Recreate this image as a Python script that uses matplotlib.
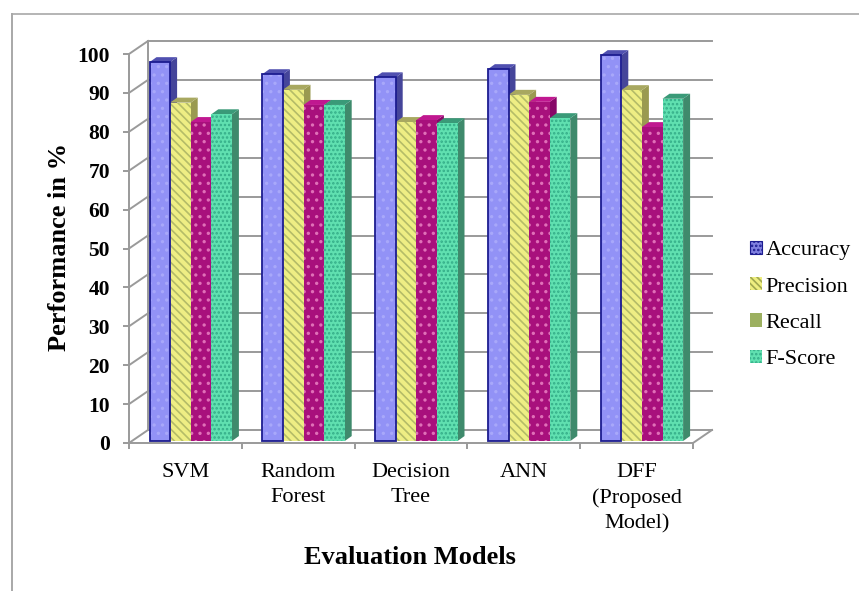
import matplotlib
matplotlib.use("Agg")
import matplotlib.pyplot as plt
from matplotlib.patches import Polygon, Patch

categories = ["SVM", "Random\nForest", "Decision\nTree", "ANN", "DFF\n(Proposed\nModel)"]
accuracy = [97.4, 94.3, 93.5, 95.6, 99.2]
precision = [87.0, 90.3, 82.0, 89.0, 90.2]
recall = [82.0, 86.4, 82.5, 87.2, 80.7]
fscore = [84.0, 86.4, 81.7, 83.0, 88.0]
series_names = ["Accuracy", "Precision", "Recall", "F-Score"]
y_ticks = list(range(0, 101, 10))

W, H = 859, 591
SERIF = "Liberation Serif"
plt.rcParams["hatch.linewidth"] = 1.2

fig = plt.figure(figsize=(W / 100, H / 100), dpi=100, facecolor="white")
ax = fig.add_axes([129 / W, 1 - 443 / H, (693 - 129) / W, (443 - 54) / H])
ax.set_xlim(0, 5)
ax.set_ylim(0, 100)
ax.patch.set_visible(False)

GRID = "#9a9a9a"
px = 5 / (693 - 129)
py = 100 / (443 - 54)
DX, DY = 19 * px, 13 * py

# walls and gridlines
for v in y_ticks:
    ax.plot([0, DX], [v, v + DY], color=GRID, lw=1.4, clip_on=False, zorder=1)
    ax.plot([DX, 5 + DX], [v + DY, v + DY], color=GRID, lw=1.4, clip_on=False, zorder=1)
ax.plot([DX, DX], [DY, 100 + DY], color=GRID, lw=1.4, clip_on=False, zorder=1)
ax.plot([5, 5 + DX], [0, DY], color=GRID, lw=1.4, clip_on=False, zorder=1)

# bars
styles = [
    dict(face="#9292f6", edge="#1c1c90", hatch="..", hc="#a8a8fa", side="#45459a", top="#5050b0"),
    dict(face="#eeee84", edge="#eeee84", hatch="\\\\\\\\", hc="#b4bc68", side="#9a9a50", top="#a8a860"),
    dict(face="#a8107c", edge="#a8107c", hatch="..", hc="#e070b8", side="#880868", top="#c01890"),
    dict(face="#60e0b0", edge="#60e0b0", hatch="....", hc="#34ad88", side="#3f8a6c", top="#3a9a78"),
]
all_series = [accuracy, precision, recall, fscore]
BW = 20.6 * px
START = 20.5 * px
LIFT = 0.5
dx_b, dy_b = 7 * px, 5 * py
for i, vals in enumerate(all_series):
    s = styles[i]
    xs = [c + START + i * BW for c in range(len(categories))]
    ax.bar(xs, vals, width=BW, bottom=LIFT, align="edge",
           color=s["face"], edgecolor=s["hc"], hatch=s["hatch"], lw=0, zorder=3 + i * 0.1)
    for x, v in zip(xs, vals):
        t = v + LIFT
        ax.add_patch(Polygon([(x + BW, LIFT), (x + BW + dx_b, LIFT + dy_b), (x + BW + dx_b, t + dy_b), (x + BW, t)],
                             closed=True, fc=s["side"], ec="none", zorder=2.9 + i * 0.1, clip_on=False))
        ax.add_patch(Polygon([(x, t), (x + dx_b, t + dy_b), (x + BW + dx_b, t + dy_b), (x + BW, t)],
                             closed=True, fc=s["top"], ec="none", zorder=2.9 + i * 0.1, clip_on=False))
        if i == 0:
            ax.add_patch(plt.Rectangle((x, LIFT), BW, v, fc="none", ec=s["edge"], lw=1.3, zorder=3.5))

# axes
for side in ("top", "right"):
    ax.spines[side].set_visible(False)
for side in ("left", "bottom"):
    ax.spines[side].set_color(GRID)
    ax.spines[side].set_linewidth(1.4)
ax.set_yticks(y_ticks)
ax.set_yticklabels([str(v) for v in y_ticks], fontfamily=SERIF, fontsize=15.5, fontweight="bold", color="black")
ax.set_xticks(range(6))
ax.set_xticklabels([""] * 6)
ax.tick_params(axis="x", color=GRID, width=1.4, length=4.3)
ax.tick_params(axis="y", color=GRID, width=1.4, length=4.3, pad=9.4)
for c, label in enumerate(categories):
    ax.text(c + 0.5, -5.2, label, ha="center", va="top", fontfamily=SERIF, fontsize=16, linespacing=1.44)

fig.text(60 / W, 1 - 247 / H, "Performance in %", rotation=90, ha="center", va="center",
         fontfamily=SERIF, fontsize=19, fontweight="bold")
fig.text(410 / W, 1 - 558 / H, "Evaluation Models", ha="center", va="center",
         fontfamily=SERIF, fontsize=19, fontweight="bold")

# legend
handles = [
    Patch(facecolor="#8080e0", edgecolor="#1c1c90", hatch="....", lw=0.8),
    Patch(facecolor="#eeee80", edgecolor="#a0a850", hatch="\\\\\\\\\\", lw=0),
    Patch(facecolor="#9cb060", edgecolor="#9cb060", lw=0),
    Patch(facecolor="#60e0b0", edgecolor="#34ad88", hatch="....", lw=0),
]
leg = fig.legend(handles, series_names, loc="center left", bbox_to_anchor=(750 / W, 1 - 305 / H),
                 frameon=False, handlelength=0.55, handleheight=0.55, handletextpad=0.14, labelspacing=0.76,
                 borderpad=0, borderaxespad=0, prop={"family": SERIF, "size": 16})

# outer frame
fig.add_artist(plt.Line2D([12 / W, 12 / W], [0, 1 - 13.5 / H], color="#a8a8a8", lw=1.4))
fig.add_artist(plt.Line2D([12 / W, 1], [1 - 13.5 / H, 1 - 13.5 / H], color="#a8a8a8", lw=1.2))

fig.savefig("out.png", dpi=100)
